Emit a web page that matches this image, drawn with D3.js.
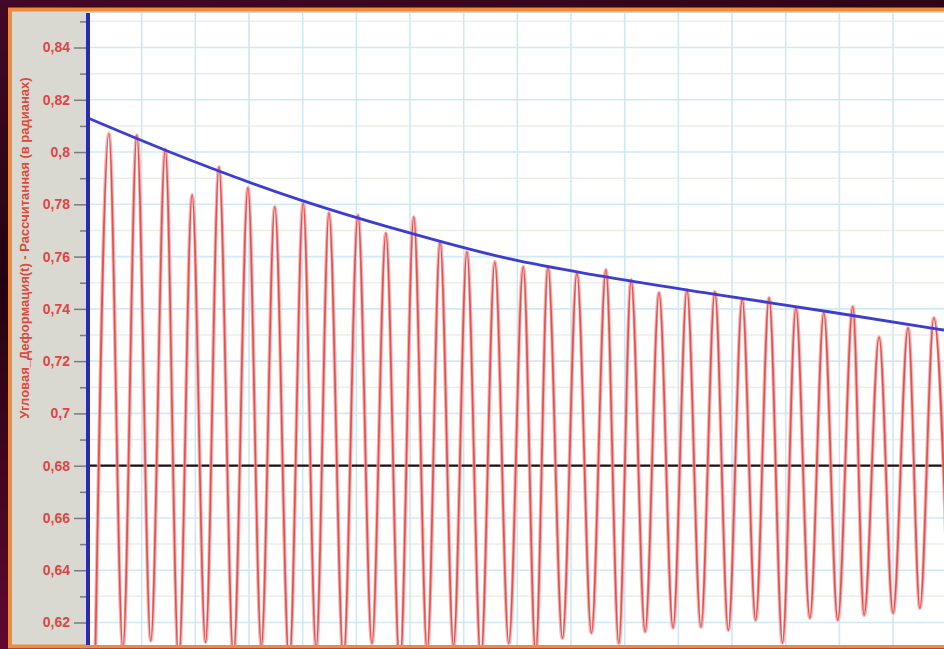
<!DOCTYPE html>
<html>
<head>
<meta charset="utf-8">
<script src="https://cdn.jsdelivr.net/npm/d3@7"></script>
<style>
  html, body { margin: 0; padding: 0; background: #2a0a1a; }
  svg { display: block; }
</style>
</head>
<body>
<svg id="chart" width="944" height="649"></svg>
<script>
// ---------------- data ----------------
const yMajorTicks = [0.62, 0.64, 0.66, 0.68, 0.70, 0.72, 0.74, 0.76, 0.78, 0.80, 0.82, 0.84];
const yTickLabels = ["0,62", "0,64", "0,66", "0,68", "0,7", "0,72", "0,74", "0,76", "0,78", "0,8", "0,82", "0,84"];
const yMinorTicks = [0.61, 0.63, 0.65, 0.67, 0.69, 0.71, 0.73, 0.75, 0.77, 0.79, 0.81, 0.83, 0.85];
const xGridTimes = [0, 1, 2, 3, 4, 5, 6, 7, 8, 9, 10, 11, 12, 13, 14, 15, 16];
const referenceLevel = 0.68;

const peakTimes = [0.39, 0.91, 1.44, 1.94, 2.44, 2.98, 3.48, 4.01, 4.49, 5.03, 5.55, 6.07, 6.56, 7.06, 7.58, 8.11,
                   8.57, 9.11, 9.65, 10.12, 10.64, 11.16, 11.68, 12.19, 12.69, 13.19, 13.71, 14.25, 14.74, 15.28, 15.76];
const peakValues = [0.807, 0.8065, 0.801, 0.7836, 0.7943, 0.7863, 0.779, 0.7805, 0.7767, 0.7759, 0.769, 0.7751, 0.7656,
                    0.7618, 0.758, 0.7561, 0.7561, 0.7538, 0.7549, 0.7511, 0.7461, 0.7473, 0.7465, 0.7435, 0.7442,
                    0.7404, 0.7385, 0.7408, 0.7292, 0.7327, 0.7365];

const troughTimes = [0.13, 0.65, 1.17, 1.69, 2.19, 2.71, 3.23, 3.75, 4.25, 4.76, 5.29, 5.81, 6.32, 6.81, 7.32, 7.84,
                     8.34, 8.84, 9.38, 9.89, 10.38, 10.90, 11.42, 11.93, 12.44, 12.94, 13.45, 13.97, 14.46, 15.00, 15.50, 16.03];
const troughValues = [0.600, 0.610, 0.613, 0.605, 0.6125, 0.607, 0.611, 0.604, 0.610, 0.606, 0.612, 0.603, 0.609, 0.611,
                      0.606, 0.612, 0.608, 0.614, 0.616, 0.612, 0.6165, 0.618, 0.6183, 0.6171, 0.6209, 0.6122, 0.6217,
                      0.6209, 0.6228, 0.6236, 0.6255, 0.626];

const envelopeTimes = [0, 1.43, 3.95, 5.81, 7.86, 9.54, 11.78, 13.83, 15.95];
const envelopeValues = [0.813, 0.8008, 0.7817, 0.7701, 0.7591, 0.7526, 0.7453, 0.7388, 0.7319];

const yAxisTitle = "Угловая_Деформация(t) - Рассчитанная (в радианах)";

// ---------------- layout ----------------
const svg = d3.select("#chart");
const W = 944, H = 649;
const plot = { left: 88, top: 13, right: 944, bottom: 645 };

const x = d3.scaleLinear().domain([0, 16]).range([88, 88 + 16 * 53.67]);
const y = d3.scaleLinear().domain([0.62, 0.84]).range([622.5, 47.5]);

// background
const defs = svg.append("defs");
const bg = defs.append("linearGradient").attr("id", "bg").attr("x1", 0).attr("y1", 0).attr("x2", 0.3).attr("y2", 1);
bg.append("stop").attr("offset", "0%").attr("stop-color", "#440828");
bg.append("stop").attr("offset", "40%").attr("stop-color", "#22040f");
bg.append("stop").attr("offset", "100%").attr("stop-color", "#6a0838");
svg.append("rect").attr("width", W).attr("height", H).attr("fill", "url(#bg)");

defs.append("clipPath").attr("id", "plotclip").append("rect")
  .attr("x", plot.left).attr("y", plot.top)
  .attr("width", plot.right - plot.left).attr("height", plot.bottom - plot.top);

// frame
svg.append("rect").attr("x", 10).attr("y", 9.5).attr("width", 1000).attr("height", 637)
  .attr("fill", "#d9d9d1").attr("stroke", "#ef8c3c").attr("stroke-width", 4);

// plot area
svg.append("rect").attr("x", plot.left).attr("y", plot.top)
  .attr("width", plot.right - plot.left).attr("height", plot.bottom - plot.top).attr("fill", "#ffffff");

const grid = svg.append("g").attr("clip-path", "url(#plotclip)");
grid.selectAll(".hminor").data(yMinorTicks).join("line")
  .attr("x1", plot.left).attr("x2", plot.right)
  .attr("y1", d => y(d)).attr("y2", d => y(d))
  .attr("stroke", "#ebefe6").attr("stroke-width", 1.5);
grid.selectAll(".hmajor").data(yMajorTicks).join("line")
  .attr("x1", plot.left).attr("x2", plot.right)
  .attr("y1", d => y(d)).attr("y2", d => y(d))
  .attr("stroke", "#cfeaf6").attr("stroke-width", 1.6);
grid.selectAll(".vgrid").data(xGridTimes).join("line")
  .attr("x1", d => x(d)).attr("x2", d => x(d))
  .attr("y1", plot.top).attr("y2", plot.bottom)
  .attr("stroke", "#cfe8f3").attr("stroke-width", 1.6);

// reference level line
grid.append("line")
  .attr("x1", plot.left).attr("x2", plot.right)
  .attr("y1", y(referenceLevel)).attr("y2", y(referenceLevel))
  .attr("stroke", "#1a1010").attr("stroke-width", 2.2);

// signal
const extrema = peakTimes.map((t, i) => ({ t, v: peakValues[i] }))
  .concat(troughTimes.map((t, i) => ({ t, v: troughValues[i] })))
  .sort((a, b) => a.t - b.t);

const sigLine = d3.line().x(d => x(d.t)).y(d => y(d.v)).curve(d3.curveMonotoneX);
grid.append("path").datum(extrema)
  .attr("d", sigLine).attr("fill", "none")
  .attr("stroke", "#f4a4a4").attr("stroke-width", 3.8).attr("opacity", 0.8);
grid.append("path").datum(extrema)
  .attr("d", sigLine).attr("fill", "none")
  .attr("stroke", "#e4504f").attr("stroke-width", 1.7);

// envelope
const env = envelopeTimes.map((t, i) => ({ t, v: envelopeValues[i] }));
grid.append("path").datum(env)
  .attr("d", d3.line().x(d => x(d.t)).y(d => y(d.v)).curve(d3.curveMonotoneX))
  .attr("fill", "none").attr("stroke", "#3c3cd6").attr("stroke-width", 2.8);

// y axis
const axisMajor = d3.axisLeft(y).tickValues(yMajorTicks).tickSize(12).tickPadding(4)
  .tickFormat(d => yTickLabels[yMajorTicks.indexOf(d)]);
const gA = svg.append("g").attr("transform", "translate(86,0)").call(axisMajor);
gA.select(".domain").remove();
gA.selectAll(".tick line").attr("stroke", "#7a7a80").attr("stroke-width", 1.5);
gA.selectAll(".tick text").attr("fill", "#dc4646")
  .style("font-family", "'Liberation Sans', Arial, sans-serif")
  .style("font-size", "14px").style("font-weight", "bold");

const axisMinor = d3.axisLeft(y).tickValues(yMinorTicks).tickSize(6).tickFormat("");
const gM = svg.append("g").attr("transform", "translate(86,0)").call(axisMinor);
gM.select(".domain").remove();
gM.selectAll(".tick line").attr("stroke", "#7a7a80").attr("stroke-width", 1.5);

// blue axis line
svg.append("line").attr("x1", 88).attr("x2", 88).attr("y1", plot.top).attr("y2", plot.bottom)
  .attr("stroke", "#2a2ab8").attr("stroke-width", 4);

// y axis title
svg.append("text")
  .attr("transform", "translate(29,248) rotate(-90)")
  .attr("text-anchor", "middle")
  .attr("fill", "#dc4a3a")
  .style("font-family", "'Liberation Sans', Arial, sans-serif")
  .style("font-size", "13px").style("font-weight", "bold")
  .text(yAxisTitle);
</script>
</body>
</html>
